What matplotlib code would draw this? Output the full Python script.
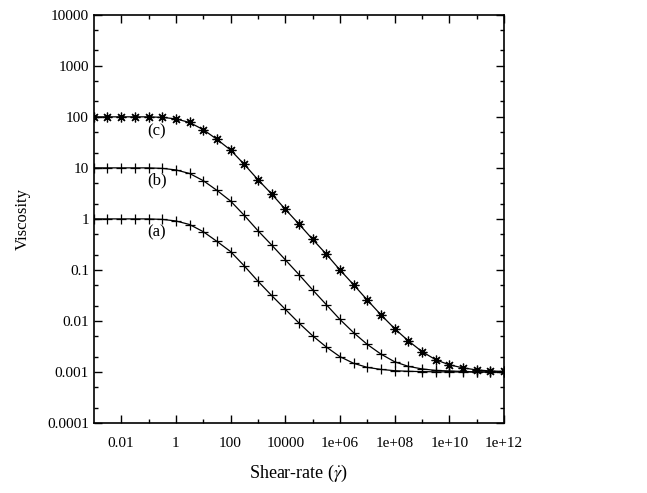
import numpy as np
import matplotlib
matplotlib.use('Agg')
import matplotlib.pyplot as plt
from matplotlib.ticker import FixedLocator, FixedFormatter, NullFormatter

plt.rcParams['font.family'] = ['Liberation Serif', 'DejaVu Serif']
plt.rcParams['mathtext.fontset'] = 'stix'

# log10 of shear rate, every half decade
log_rate = [-3.0, -2.5, -2.0, -1.5, -1.0, -0.5, 0.0, 0.5, 1.0, 1.5, 2.0, 2.5, 3.0, 3.5, 4.0, 4.5,
            5.0, 5.5, 6.0, 6.5, 7.0, 7.5, 8.0, 8.5, 9.0, 9.5, 10.0, 10.5, 11.0, 11.5, 12.0]

# log10 of viscosity
log_visc_a = [0.0, 0.0, 0.0, 0.0, 0.0, -0.01, -0.04, -0.11, -0.25, -0.44, -0.64, -0.92, -1.22, -1.50, -1.77, -2.04,
              -2.29, -2.51, -2.70, -2.83, -2.91, -2.95, -2.975, -2.987, -2.993, -2.997, -3.0, -3.0, -3.0, -3.0, -3.0]
log_visc_b = [1.0, 1.0, 1.0, 1.0, 1.0, 0.99, 0.96, 0.89, 0.75, 0.56, 0.35, 0.07, -0.23, -0.51, -0.80, -1.09,
              -1.39, -1.68, -1.97, -2.23, -2.46, -2.65, -2.80, -2.89, -2.94, -2.97, -2.98, -2.99, -3.0, -3.0, -3.0]
log_visc_c = [2.0, 2.0, 2.0, 2.0, 2.0, 1.99, 1.96, 1.89, 1.75, 1.56, 1.35, 1.07, 0.77, 0.49, 0.19, -0.10,
              -0.40, -0.69, -1.00, -1.29, -1.59, -1.88, -2.15, -2.39, -2.60, -2.76, -2.86, -2.92, -2.96, -2.98, -2.99]

curve_labels = ['(a)', '(b)', '(c)']
label_pos = [(0.2, 0.55), (0.2, 5.6), (0.2, 53)]

x_major = [1e-2, 1, 1e2, 1e4, 1e6, 1e8, 1e10, 1e12]
x_major_labels = ['0.01', '1', '100', '10000', '1e+06', '1e+08', '1e+10', '1e+12']
y_major = [1e-4, 1e-3, 1e-2, 1e-1, 1, 10, 100, 1000, 10000]
y_major_labels = ['0.0001', '0.001', '0.01', '0.1', '1', '10', '100', '1000', '10000']

fig = plt.figure(figsize=(6.47, 4.93), dpi=100)
ax = fig.add_axes([0.145, 0.142, 0.634, 0.828])

rate = 10 ** np.array(log_rate)
markers = ['+', '+', (8, 2, 0)]
for lv, m in zip([log_visc_a, log_visc_b, log_visc_c], markers):
    ax.plot(rate, 10 ** np.array(lv), color='black', lw=0.9, marker=m, markersize=7,
            markeredgewidth=0.9)

for txt, (px, py) in zip(curve_labels, label_pos):
    ax.text(px, py, txt, fontsize=12, ha='center', va='center')

ax.set_xscale('log')
ax.set_yscale('log')
ax.set_xlim(1e-3, 1e12)
ax.set_ylim(1e-4, 1e4)

ax.xaxis.set_major_locator(FixedLocator(x_major))
ax.xaxis.set_major_formatter(FixedFormatter(x_major_labels))
ax.xaxis.set_minor_locator(FixedLocator([10.0 ** k for k in range(-1, 12, 2)]))
ax.xaxis.set_minor_formatter(NullFormatter())
ax.yaxis.set_major_locator(FixedLocator(y_major))
ax.yaxis.set_major_formatter(FixedFormatter(y_major_labels))
ax.yaxis.set_minor_locator(FixedLocator([f * 10.0 ** k for k in range(-4, 4) for f in (2, 5)]))
ax.yaxis.set_minor_formatter(NullFormatter())

ax.tick_params(which='both', direction='in', top=True, right=True, labelsize=11)
ax.tick_params(which='major', length=6, width=1)
ax.tick_params(which='minor', length=3, width=1)
ax.tick_params(axis='x', pad=10)
for s in ax.spines.values():
    s.set_linewidth(1.2)

ax.set_xlabel(r'Shear-rate ($\dot{\gamma}$)', fontsize=13, labelpad=9)
ax.set_ylabel('Viscosity', fontsize=12, labelpad=12)

fig.savefig('out.png', dpi=100)
